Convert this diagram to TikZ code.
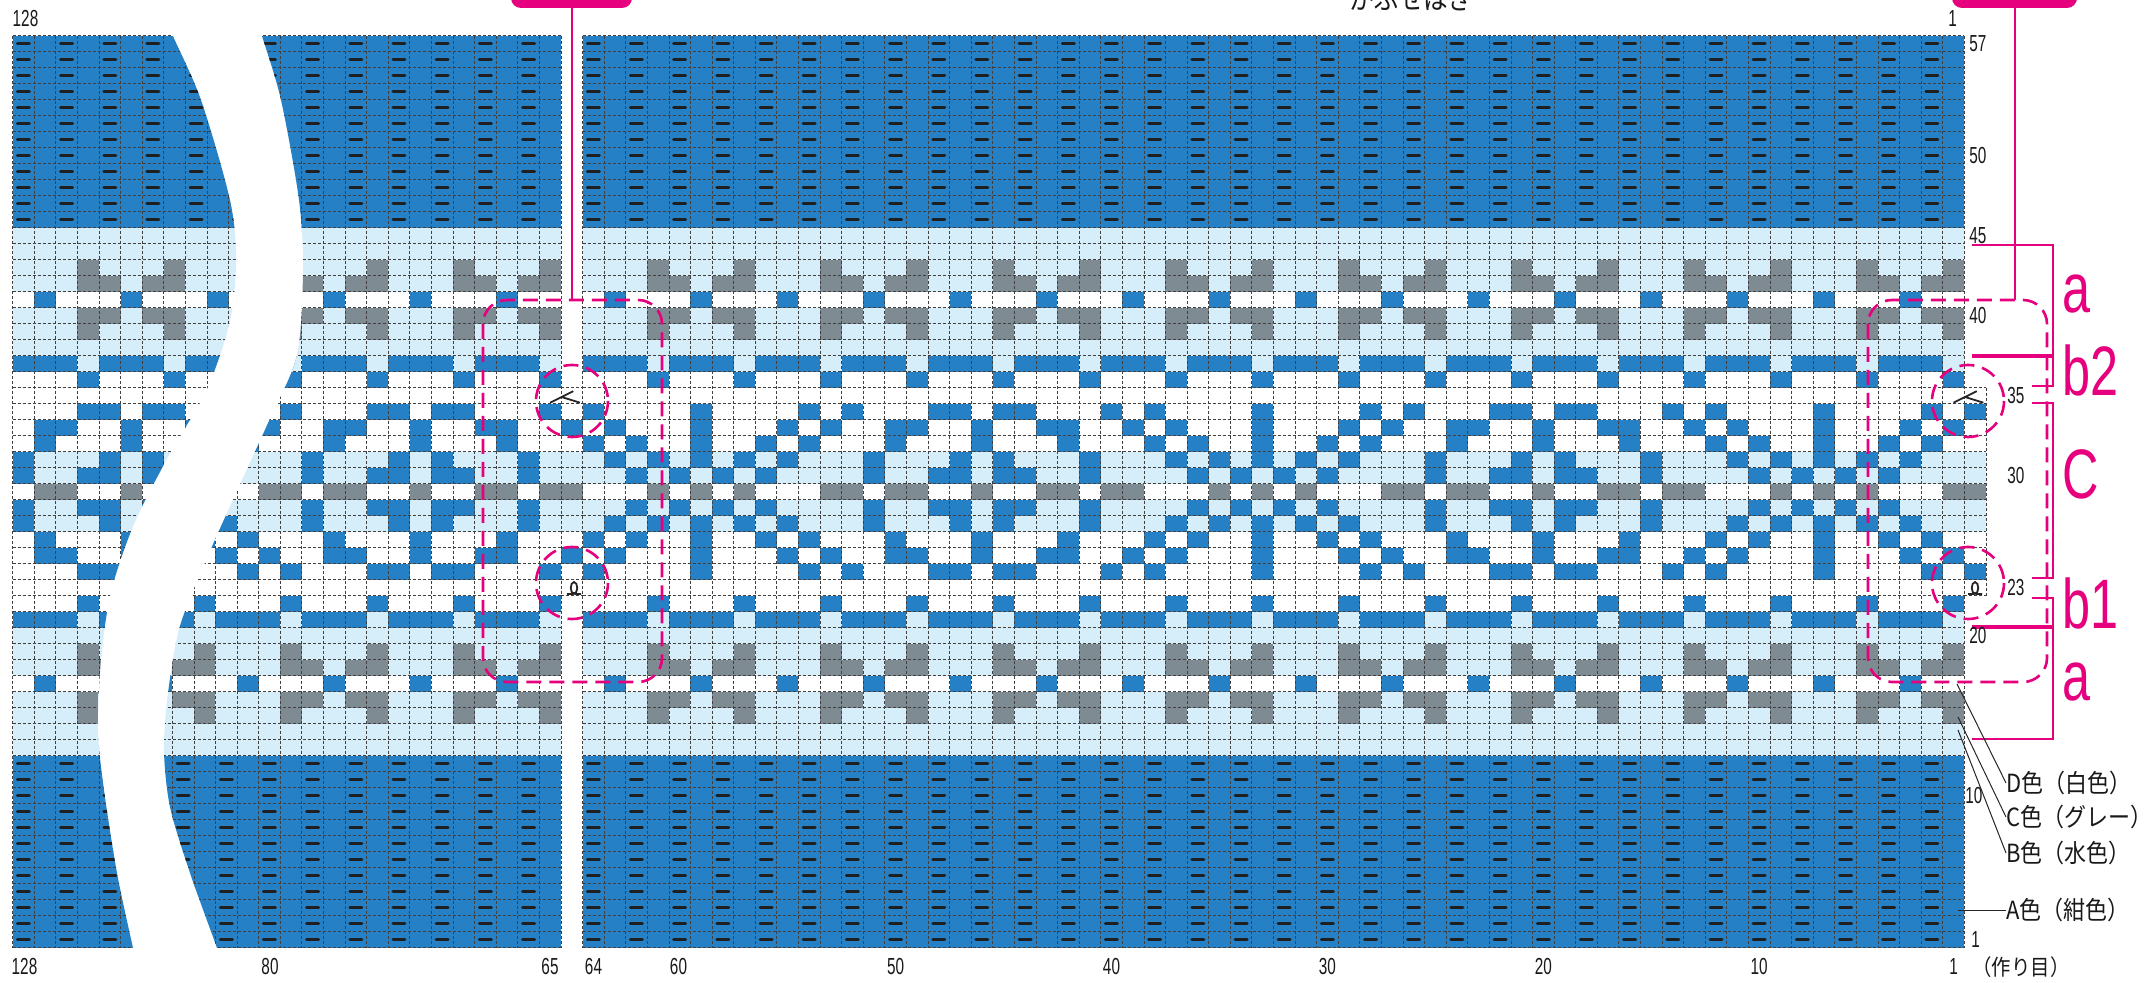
\documentclass[tikz,border=0pt]{standalone}
\usepackage{fontspec}
\setmainfont{Liberation Sans}
\newfontfamily\numfont{Liberation Sans}[FakeStretch=0.66]
\newfontfamily\markfont{Liberation Sans}[FakeStretch=0.72]
\newfontfamily\jpfont{Noto Sans CJK JP}[FakeStretch=0.88]
\usepackage{tikz}
\usetikzlibrary{positioning}
\definecolor{navyA}{RGB}{38,128,198}
\definecolor{lightB}{RGB}{214,237,250}
\definecolor{grayC}{RGB}{127,139,147}
\definecolor{pinkM}{RGB}{230,0,126}

\newcommand\pcell[3]{\fill[#3] ({1964.26-21.59*(#1)},{947.7-16*(#2)}) rectangle ++(21.59,16);}
\newcommand\band[5]{\fill[#5] ({1964.26-21.59*(#2)},{947.7-16*(#3)}) rectangle ({1985.85-21.59*(#1)},{963.7-16*(#4)});}
\newcommand\mrows[2]{\foreach \r in {#1}{\pcell{\p}{\r}{#2}}}

\newcommand\chartfill[3]{%
  \band{#1}{#2}{57}{46}{navyA}
  \band{#1}{#2}{45}{42}{lightB}
  \band{#1}{#2}{40}{38}{lightB}
  \band{#1}{#2}{37}{37}{navyA}
  \band{#1}{#2}{31}{30}{lightB}
  \band{#1}{#2}{28}{27}{lightB}
  \band{#1}{#2}{21}{21}{navyA}
  \band{#1}{#2}{20}{18}{lightB}
  \band{#1}{#2}{16}{13}{lightB}
  \band{#1}{#2}{12}{1}{navyA}
  \foreach \p in {#1,...,#2}{%
    \pgfmathtruncatemacro\m{mod(\p-#3,8)}%
    \ifcase\m
    \or \mrows{15,16,18,19,39,40,42,43}{grayC}\mrows{21,37}{lightB}\mrows{22,36}{navyA}%
    \or \mrows{16,18,40,42}{grayC}%
    \or \mrows{17,41}{navyA}%
    \or \mrows{16,18,40,42}{grayC}%
    \or \mrows{15,16,18,19,39,40,42,43}{grayC}\mrows{21,37}{lightB}\mrows{22,36}{navyA}%
    \or
    \or \mrows{17,41}{navyA}%
    \fi
    \ifodd\m\else\foreach \r in {1,...,12,46,47,...,57}{\draw[purl] ({1964.26-21.59*\p+4.8},{955.7-16*\r}) -- ++(12,0);}\fi
  }}

\newcommand\motif[2]{\foreach \p in {#1,...,#2}{%
    \pgfmathtruncatemacro\a{abs(mod(\p+6,26)-13)}%
    \ifcase\a \mrows{24,25,26,27,31,32,33,34}{navyA}\pcell{\p}{29}{grayC}%
    \or \mrows{28,30}{navyA}%
    \or \mrows{27,31}{navyA}\pcell{\p}{29}{grayC}%
    \or \mrows{26,28,30,32}{navyA}%
    \or \mrows{25,27,31,33}{navyA}%
    \or \mrows{24,26,32,34}{navyA}%
    \or \mrows{25,33}{navyA}\pcell{\p}{29}{grayC}%
    \or \mrows{24,34}{navyA}\pcell{\p}{29}{grayC}%
    \or \mrows{27,28,30,31}{navyA}%
    \or \mrows{25,26,32,33}{navyA}\pcell{\p}{29}{grayC}%
    \or \mrows{25,33}{navyA}\pcell{\p}{29}{grayC}%
    \or \mrows{24,28,30,34}{navyA}%
    \or \mrows{24,27,28,30,31,34}{navyA}%
    \or \mrows{25,26,32,33}{navyA}\pcell{\p}{29}{grayC}%
    \fi}}

\newcommand\chartgrid[2]{%
  \foreach \p in {#1,...,#2}{\draw[gridline] ({1964.26-21.59*\p},35.7) -- ++(0,912);}
  \draw[gridline] ({1985.85-21.59*#1},35.7) -- ++(0,912);
  \foreach \k in {0,...,57}{\draw[gridline] ({1964.26-21.59*#2},{35.7+16*\k}) -- ({1985.85-21.59*#1},{35.7+16*\k});}}

\tikzset{
  gridline/.style={black!75,line width=0.35pt,dash pattern=on 1.5pt off 1pt},
  purl/.style={black!88,line width=1.5pt,line cap=round},
  symline/.style={black!85,line width=0.9pt},
  pinkdash/.style={pinkM,line width=1.3pt,dash pattern=on 7.5pt off 4pt},
  pinkthin/.style={pinkM,line width=0.75pt},
  pinkthick/.style={pinkM,line width=1.6pt},
  pinktab/.style={fill=pinkM,rounded corners=5pt},
  rowno/.style={inner sep=0pt,font=\numfont\fontsize{11.6}{12}\selectfont,text=black!90},
  partmark/.style={inner sep=0pt,anchor=west,text=pinkM,font=\markfont\fontsize{35}{40}\selectfont},
  legend/.style={inner sep=0pt,anchor=west,font=\jpfont\fontsize{12.5}{14}\selectfont,text=black!90},
  leader/.style={black!85,line width=0.5pt}
}

\begin{document}
\begin{tikzpicture}[x=0.5pt,y=-0.5pt]
\useasboundingbox (0,0) rectangle (2152,983);
\fill[white] (0,0) rectangle (2152,983);

\begin{scope}
\clip plot[smooth] coordinates {(257,20) (262,36) (281,100) (299,200) (303,270) (297,355) (268,423) (237,491) (207,558) (180,626) (168,693) (164,750) (170,807) (190,873) (217,948) (222,965)} -- (2152,965) -- (2152,20) -- cycle;
\chartfill{1}{64}{0}
\chartfill{66}{89}{1}
\foreach \p in {0,65}{\mrows{27,28,30,31}{lightB}}
\motif{0}{89}
\chartgrid{1}{64}
\chartgrid{66}{89}
\foreach \k in {22,...,35}{
  \draw[gridline] (560.9,{35.7+16*\k}) -- (582.5,{35.7+16*\k});
  \draw[gridline] (1964.26,{35.7+16*\k}) -- (1985.85,{35.7+16*\k});}
\draw[gridline] (1985.85,387.7) -- (1985.85,595.7);
\end{scope}

\begin{scope}
\clip (0,20) -- plot[smooth] coordinates {(168,20) (173,36) (201,100) (230,200) (236,260) (230,321) (207,389) (168,457) (134,524) (111,592) (101,660) (98,730) (104,790) (117,873) (133,948) (137,965)} -- (0,965) -- cycle;
\begin{scope}[shift={(833.45,0)}]
\chartfill{106}{129}{1}
\motif{106}{129}
\chartgrid{106}{129}
\end{scope}
\end{scope}

\draw[symline] (550.1,402.7) -- (573.3,391.2) (561.6,397) -- (580,402.7);
\draw[symline] (1953.5,402.7) -- (1976.7,391.2) (1965,397) -- (1983.4,402.7);
\draw[symline] (567,594) -- (573,594) .. controls (579,594) and (578,582) .. (574,582) .. controls (570,582) and (569,594) .. (575,594) -- (581,594);
\draw[symline] (1968,594) -- (1974,594) .. controls (1980,594) and (1979,582) .. (1975,582) .. controls (1971,582) and (1970,594) .. (1976,594) -- (1982,594);

\draw[pinkdash,rounded corners=12pt] (483,300) rectangle (662,682);
\draw[pinkdash,rounded corners=12pt] (1868,300) rectangle (2047,682);
\draw[pinkdash] (572,401) circle[radius=36];
\draw[pinkdash] (572,583) circle[radius=36];
\draw[pinkdash] (1968,401) circle[radius=36];
\draw[pinkdash] (1968,583) circle[radius=36];

\fill[pinktab] (511,-30) rectangle (632,8);
\fill[pinktab] (1952,-30) rectangle (2077,8);
\draw[pinkM,line width=1.2pt] (571.7,8) -- (571.7,300);
\draw[pinkM,line width=1.2pt] (2015,8) -- (2015,300);

\draw[pinkthin] (1972,245) -- (2053,245) -- (2053,356);
\draw[pinkthick] (1972,356) -- (2053,356);
\draw[pinkthin] (2053,356) -- (2053,386) -- (2032,386);
\draw[pinkthin] (2032,403) -- (2053,403) -- (2053,578) -- (2032,578);
\draw[pinkthin] (2032,598) -- (2053,598) -- (2053,627);
\draw[pinkthick] (1972,627) -- (2053,627);
\draw[pinkthin] (2053,627) -- (2053,739) -- (1972,739);

\node[partmark] (aTop) at (2062,294) {a};
\node[partmark] (bTwo) at (2062,370) {b2};
\node[partmark] (cMid) at (2062,474) {C};
\node[partmark] (bOne) at (2062,603) {b1};
\node[partmark] (aLow) at (2062,682) {a};

\node[rowno,anchor=west] (r57) at (1969,43.7) {57};
\node[rowno,anchor=west] (r50) at (1969,155.7) {50};
\node[rowno,anchor=west] (r45) at (1969,235.7) {45};
\node[rowno,anchor=west] (r40) at (1969,315.7) {40};
\node[rowno,anchor=west] (r35) at (2007,395.7) {35};
\node[rowno,anchor=west] (r30) at (2007,475.7) {30};
\node[rowno,anchor=west] (r23) at (2007,587.7) {23};
\node[rowno,anchor=west] (r20) at (1969,635.7) {20};
\node[rowno,anchor=west] (r10) at (1965,795.7) {10};
\node[rowno] (r1) at (1975.5,939.7) {1};

\node[rowno] (topL) at (25.5,19) {128};
\node[rowno] (topR) at (1952.5,19) {1};
\node[rowno] (c128) at (24.5,967) {128};
\node[rowno] (c80) at (270,967) {80};
\node[rowno] (c65) at (550,967) {65};
\node[rowno] (c64) at (593.5,967) {64};
\node[rowno] (c60) at (678.5,967) {60};
\node[rowno] (c50) at (895.6,967) {50};
\node[rowno] (c40) at (1111.5,967) {40};
\node[rowno] (c30) at (1327.4,967) {30};
\node[rowno] (c20) at (1543.3,967) {20};
\node[rowno] (c10) at (1759.2,967) {10};
\node[rowno] (c1) at (1953.5,967) {1};
\node[inner sep=0pt,font=\jpfont\fontsize{11}{13}\selectfont,text=black!90] (castOn) at (2021,967) {（作り目）};
\node[inner sep=0pt,anchor=base,font=\jpfont\fontsize{14}{16}\selectfont,text=black!90] (joinTop) at (1411.5,10) {かぶせはぎ};

\node[legend] (legD) at (2006,783) {D色（白色）};
\node[legend] (legC) at (2006,817) {C色（グレー）};
\node[legend] (legB) at (2006,853) {B色（水色）};
\node[legend] (legA) at (2006,910) {A色（紺色）};
\coordinate (cellD) at (1957,684);
\coordinate (cellC) at (1958,717);
\coordinate (cellB) at (1958,730);
\coordinate (cellA) at (1958,910);
\draw[leader] (cellD) -- (legD.west);
\draw[leader] (cellC) -- (legC.west);
\draw[leader] (cellB) -- (legB.west);
\draw[leader] (cellA) -- (legA.west);
\end{tikzpicture}
\end{document}
